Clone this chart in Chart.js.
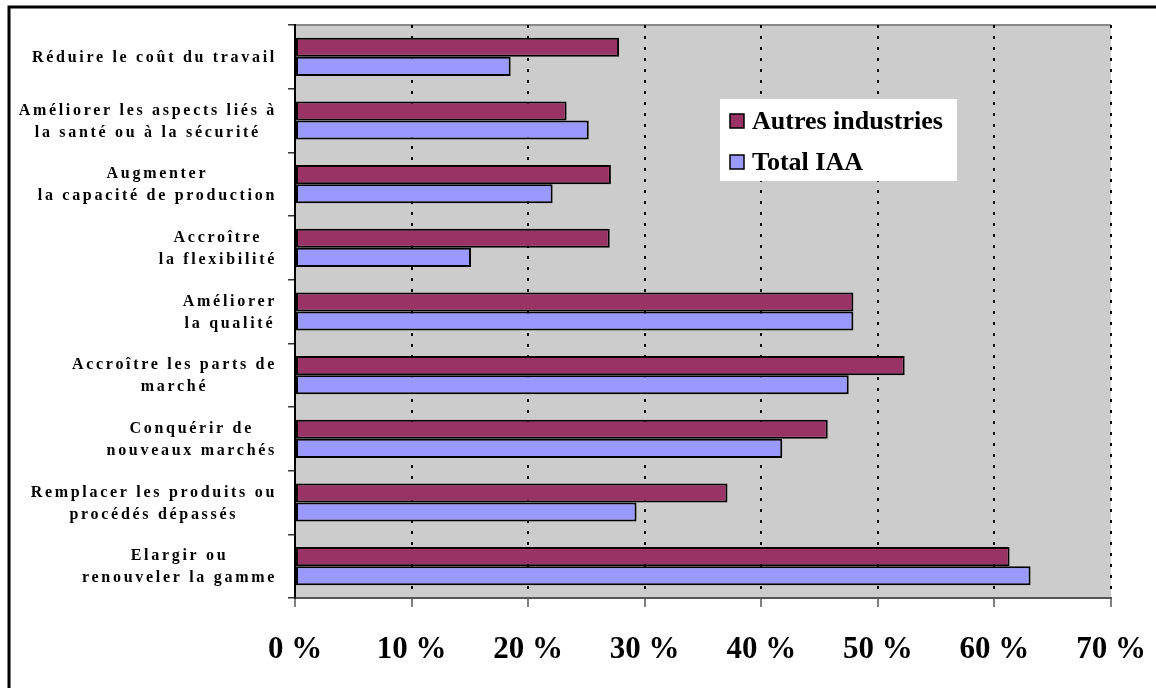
<!DOCTYPE html>
<html>
<head>
<meta charset="utf-8">
<script src="https://cdn.jsdelivr.net/npm/chart.js@4.4.1/dist/chart.umd.min.js"></script>
<style>
  body { margin: 0; background: #fff; }
  #wrap { width: 1156px; height: 688px; position: relative; }
</style>
</head>
<body>
<div id="wrap"><canvas id="myChart" width="1156" height="688"></canvas></div>
<script>
var categories = [
  ['Réduire le coût du travail'],
  ['Améliorer les aspects liés à', 'la santé ou à la sécurité'],
  ['Augmenter', 'la capacité de production'],
  ['Accroître', 'la flexibilité'],
  ['Améliorer', 'la qualité'],
  ['Accroître les parts de', 'marché'],
  ['Conquérir de', 'nouveaux marchés'],
  ['Remplacer les produits ou', 'procédés dépassés'],
  ['Elargir ou', 'renouveler la gamme']
];
var seriesNames = ['Autres industries', 'Total IAA'];
var autresIndustries = [27.8, 23.3, 27.1, 27.0, 47.9, 52.3, 45.7, 37.1, 61.3];
var totalIAA = [18.5, 25.2, 22.1, 15.1, 47.9, 47.5, 41.8, 29.3, 63.1];
var xTicks = [0, 10, 20, 30, 40, 50, 60, 70];

var seriesColors = ['#993366', '#9999ff'];
var serif = '"Liberation Serif", "Times New Roman", serif';

// grey plot area + frame around the whole picture
var backdrop = {
  id: 'backdrop',
  beforeDraw: function(chart) {
    var ctx = chart.ctx, a = chart.chartArea;
    ctx.save();
    ctx.fillStyle = '#cccccc';
    ctx.fillRect(a.left, a.top, a.right - a.left, a.bottom - a.top);
    ctx.strokeStyle = '#888888';
    ctx.lineWidth = 2;
    ctx.beginPath();
    ctx.moveTo(a.left, a.top);
    ctx.lineTo(a.right, a.top);
    ctx.stroke();
    ctx.strokeStyle = '#000';
    ctx.lineWidth = 3;
    ctx.beginPath();
    ctx.moveTo(9, 700);
    ctx.lineTo(9, 7);
    ctx.lineTo(1170, 7);
    ctx.stroke();
    ctx.restore();
  }
};

// category labels: block right aligned, each line centred in the block
var yLabels = {
  id: 'yLabels',
  afterDraw: function(chart) {
    var ctx = chart.ctx, ys = chart.scales.y;
    var right = ys.right - 18;
    ctx.save();
    ctx.font = 'bold 16px ' + serif;
    ctx.letterSpacing = '2.7px';
    ctx.fillStyle = '#000';
    ctx.textAlign = 'center';
    ctx.textBaseline = 'middle';
    categories.forEach(function(lines, i) {
      var w = 0;
      lines.forEach(function(l) { w = Math.max(w, ctx.measureText(l).width); });
      var cx = right - w / 2;
      var yc = ys.getPixelForValue(i);
      var lh = 22;
      lines.forEach(function(l, k) {
        ctx.fillText(l, cx, yc + 1 + (k - (lines.length - 1) / 2) * lh);
      });
    });
    ctx.restore();
  }
};

// legend box inside the plot
var boxLegend = {
  id: 'boxLegend',
  afterDraw: function(chart) {
    var ctx = chart.ctx;
    ctx.save();
    ctx.fillStyle = '#fff';
    ctx.fillRect(720, 99, 237, 82);
    ctx.font = 'bold 26px ' + serif;
    ctx.textBaseline = 'middle';
    chart.data.datasets.forEach(function(ds, i) {
      var y = 121 + i * 41;
      ctx.fillStyle = ds.backgroundColor;
      ctx.fillRect(730, y - 7, 14, 14);
      ctx.strokeStyle = '#000';
      ctx.lineWidth = 1.5;
      ctx.strokeRect(730, y - 7, 14, 14);
      ctx.fillStyle = '#000';
      ctx.fillText(ds.label, 752, y + 1);
    });
    ctx.restore();
  }
};

new Chart(document.getElementById('myChart'), {
  type: 'bar',
  data: {
    labels: categories,
    datasets: [
      { label: seriesNames[0], data: autresIndustries, backgroundColor: seriesColors[0],
        borderColor: '#000', borderWidth: 2, borderSkipped: false },
      { label: seriesNames[1], data: totalIAA, backgroundColor: seriesColors[1],
        borderColor: '#000', borderWidth: 2, borderSkipped: false }
    ]
  },
  options: {
    indexAxis: 'y',
    responsive: false,
    animation: false,
    devicePixelRatio: 1,
    categoryPercentage: 0.6,
    barPercentage: 1.0,
    layout: { padding: { left: 0, top: 25, right: 45, bottom: 0 } },
    plugins: { legend: { display: false }, tooltip: { enabled: false } },
    scales: {
      x: {
        min: 0, max: 70,
        afterBuildTicks: function(s) { s.ticks = xTicks.map(function(v) { return { value: v }; }); },
        afterFit: function(s) { s.height = 90; s.paddingLeft = 0; s.paddingRight = 0; },
        grid: {
          color: '#000', lineWidth: 2,
          drawTicks: true, tickLength: 9, tickColor: '#555', tickWidth: 1.5, tickBorderDash: []
        },
        border: { display: true, color: '#555', width: 2, dash: [3, 8] },
        ticks: {
          color: '#000', padding: 24, maxRotation: 0,
          font: { family: serif, size: 31, weight: 'bold' },
          callback: function(v) { return v + ' %'; }
        }
      },
      y: {
        afterFit: function(s) { s.width = 295; },
        grid: { offset: true, drawOnChartArea: false, drawTicks: true, tickLength: 7, color: '#333', lineWidth: 1.5 },
        border: { display: true, color: '#000', width: 2 },
        ticks: { display: false }
      }
    }
  },
  plugins: [backdrop, yLabels, boxLegend]
});
</script>
</body>
</html>
